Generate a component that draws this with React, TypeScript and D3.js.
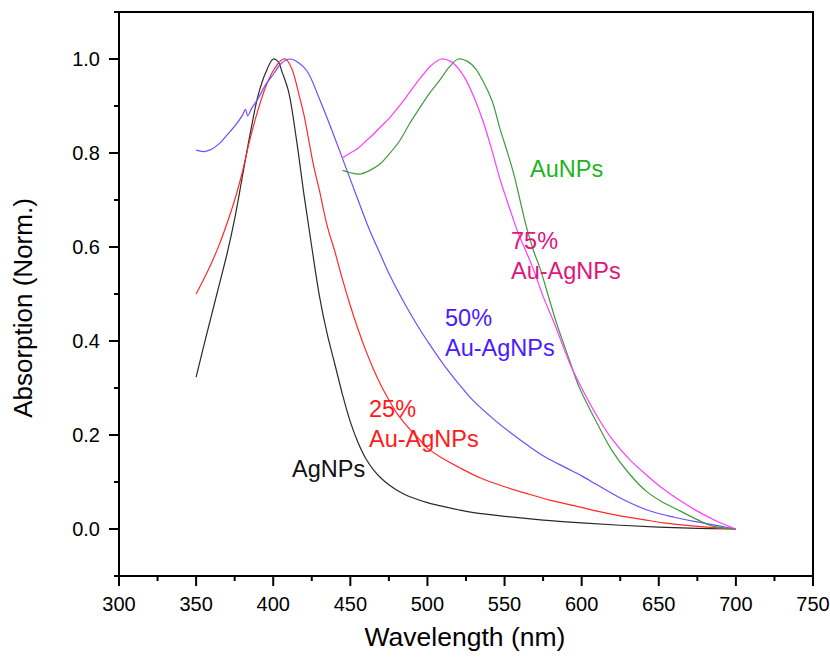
import React from "react";
import * as d3 from "d3";

const agWl = [350, 355, 360, 365, 370, 375, 380, 385, 390, 395, 400, 403, 406, 410, 415, 420, 425, 430, 435, 440, 445, 450, 455, 460, 465, 470, 475, 480, 485, 490, 500, 510, 520, 530, 550, 575, 600, 625, 650, 675, 700];
const agAbs = [0.323, 0.39, 0.455, 0.52, 0.585, 0.66, 0.75, 0.84, 0.92, 0.97, 1.0, 0.995, 0.97, 0.93, 0.83, 0.71, 0.6, 0.495, 0.415, 0.35, 0.285, 0.228, 0.184, 0.15, 0.126, 0.108, 0.094, 0.083, 0.074, 0.067, 0.056, 0.048, 0.041, 0.035, 0.027, 0.019, 0.013, 0.008, 0.004, 0.0015, 0.0];

const au25Wl = [350, 355, 360, 365, 370, 375, 380, 385, 390, 395, 400, 405, 408, 412, 417, 420, 426, 430, 435, 440, 445, 450, 455, 460, 465, 470, 475, 480, 486, 490, 495, 500, 510, 520, 534, 550, 566, 580, 600, 610, 625, 640, 653, 670, 685, 700];
const au25Abs = [0.5, 0.532, 0.566, 0.605, 0.65, 0.7, 0.76, 0.83, 0.89, 0.94, 0.975, 0.997, 1.0, 0.98, 0.92, 0.88, 0.776, 0.72, 0.645, 0.59, 0.53, 0.475, 0.425, 0.38, 0.34, 0.305, 0.275, 0.247, 0.222, 0.207, 0.19, 0.172, 0.15, 0.132, 0.109, 0.09, 0.074, 0.061, 0.046, 0.038, 0.028, 0.02, 0.013, 0.007, 0.003, 0.0];

const au50Wl = [350, 355, 360, 365, 370, 375, 380, 382, 383.5, 386, 390, 395, 400, 405, 411, 416, 422, 430, 439, 447, 455, 462, 469, 476, 486, 495, 502, 510, 520, 530, 545, 555, 565, 577, 590, 600, 610, 625, 642, 660, 675, 690, 700];
const au50Abs = [0.806, 0.803, 0.808, 0.82, 0.838, 0.857, 0.88, 0.893, 0.879, 0.895, 0.915, 0.945, 0.967, 0.99, 1.0, 0.993, 0.974, 0.915, 0.84, 0.77, 0.7, 0.64, 0.588, 0.537, 0.475, 0.425, 0.39, 0.352, 0.31, 0.272, 0.228, 0.202, 0.178, 0.152, 0.13, 0.113, 0.094, 0.066, 0.041, 0.025, 0.015, 0.006, 0.0];

const au75Wl = [445, 450, 455, 460, 465, 470, 475, 480, 486, 492, 497, 502, 509, 515, 520, 525, 530, 536, 541, 547, 553, 559, 564, 569, 575, 582, 592, 600, 610, 620, 631, 642, 653, 664, 675, 688, 700];
const au75Abs = [0.79, 0.8, 0.81, 0.825, 0.84, 0.857, 0.873, 0.893, 0.918, 0.945, 0.966, 0.985, 1.0, 0.995, 0.98, 0.955, 0.92, 0.868, 0.815, 0.745, 0.685, 0.628, 0.59, 0.55, 0.495, 0.44, 0.355, 0.3, 0.24, 0.19, 0.148, 0.115, 0.085, 0.06, 0.038, 0.016, 0.0];

const auWl = [445, 450, 456, 462, 469, 475, 482, 488, 495, 502, 508, 514, 520, 526, 531, 536, 542, 547, 552, 556, 560, 564, 569, 573, 578, 584, 592, 598, 610, 620, 631, 642, 652, 664, 675, 685, 700];
const auAbs = [0.763, 0.758, 0.755, 0.762, 0.776, 0.797, 0.826, 0.86, 0.896, 0.93, 0.955, 0.982, 1.0, 0.995, 0.98, 0.953, 0.91, 0.852, 0.8, 0.755, 0.7, 0.645, 0.59, 0.555, 0.5, 0.435, 0.36, 0.305, 0.225, 0.165, 0.117, 0.08, 0.058, 0.038, 0.02, 0.006, 0.0];

const xTicks = [300, 350, 400, 450, 500, 550, 600, 650, 700, 750];
const xMinor = [325, 375, 425, 475, 525, 575, 625, 675, 725];
const yTicks = [0.0, 0.2, 0.4, 0.6, 0.8, 1.0];
const yMinor = [-0.1, 0.1, 0.3, 0.5, 0.7, 0.9, 1.1];

const series = [
  { name: "AgNPs", wl: agWl, abs: agAbs, color: "#2a2a2a" },
  { name: "25%", wl: au25Wl, abs: au25Abs, color: "#ff2a2a" },
  { name: "50%", wl: au50Wl, abs: au50Abs, color: "#6f4cff" },
  { name: "AuNPs", wl: auWl, abs: auAbs, color: "#3f9a3f" },
  { name: "75%", wl: au75Wl, abs: au75Abs, color: "#ff3cff" },
];

const labels = [
  { lines: ["AuNPs"], x: 530, y: 177, color: "#1fb31f" },
  { lines: ["75%", "Au-AgNPs"], x: 511, y: 249, color: "#e0157a" },
  { lines: ["50%", "Au-AgNPs"], x: 445, y: 326, color: "#4a1aff" },
  { lines: ["25%", "Au-AgNPs"], x: 369, y: 417, color: "#ff1a1a" },
  { lines: ["AgNPs"], x: 292, y: 477, color: "#111" },
];

export default function App() {
  const W = 830, H = 657;
  const L = 119, R = 813, T = 12, B = 576;
  const x = d3.scaleLinear().domain([300, 750]).range([L, R]);
  const y = d3.scaleLinear().domain([-0.1, 1.1]).range([B, T]);
  const font = "'Liberation Sans', Arial, Helvetica, sans-serif";

  return (
    <svg width={W} height={H} style={{ position: "absolute", left: 0, top: 0 }} fontFamily={font}>
      <rect x={0} y={0} width={W} height={H} fill="#fff" />
      {series.map((s) => {
        const pts: [number, number][] = s.wl.map((w, i) => [w, s.abs[i]]);
        const line = d3
          .line<[number, number]>()
          .x((d) => x(d[0]))
          .y((d) => y(d[1]))
          .curve(d3.curveCatmullRom.alpha(0.5));
        return <path key={s.name} d={line(pts) || ""} fill="none" stroke={s.color} strokeWidth={1.2} />;
      })}
      <rect x={L} y={T} width={R - L} height={B - T} fill="none" stroke="#000" strokeWidth={2} />
      {xTicks.map((t) => (
        <g key={"xt" + t}>
          <line x1={x(t)} x2={x(t)} y1={B} y2={B + 10} stroke="#000" strokeWidth={2} />
          <text x={x(t)} y={611} textAnchor="middle" fontSize={20} fill="#000">
            {t}
          </text>
        </g>
      ))}
      {xMinor.map((t) => (
        <line key={"xm" + t} x1={x(t)} x2={x(t)} y1={B} y2={B + 5} stroke="#000" strokeWidth={2} />
      ))}
      {yTicks.map((t) => (
        <g key={"yt" + t}>
          <line x1={L - 10} x2={L} y1={y(t)} y2={y(t)} stroke="#000" strokeWidth={2} />
          <text x={100} y={y(t) + 7} textAnchor="end" fontSize={20} fill="#000">
            {d3.format(".1f")(t)}
          </text>
        </g>
      ))}
      {yMinor.map((t) => (
        <line key={"ym" + t} x1={L - 5} x2={L} y1={y(t)} y2={y(t)} stroke="#000" strokeWidth={2} />
      ))}
      <text x={465} y={646} textAnchor="middle" fontSize={26.5} fill="#000">
        Wavelength (nm)
      </text>
      <text
        transform={`translate(32, 308) rotate(-90)`}
        textAnchor="middle"
        fontSize={26}
        fill="#000"
      >
        Absorption (Norm.)
      </text>
      {labels.map((lb, i) => (
        <text key={"lb" + i} x={lb.x} y={lb.y} fontSize={23.5} fill={lb.color}>
          {lb.lines.map((ln, j) => (
            <tspan key={j} x={lb.x} dy={j === 0 ? 0 : 29.5}>
              {ln}
            </tspan>
          ))}
        </text>
      ))}
    </svg>
  );
}
